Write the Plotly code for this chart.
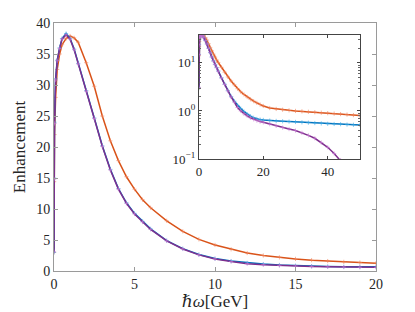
import plotly.graph_objects as go

# photon energy (GeV)
x_vals = [0, 0.01, 0.03, 0.1, 0.2, 0.35, 0.5, 0.75, 1.0, 1.25, 1.5, 2, 2.5, 3, 3.5, 4, 4.5, 5, 5.5, 6,
          7, 8, 9, 10, 11, 12, 13, 14, 15, 16, 17, 18, 19, 20, 22, 24, 26, 28, 30, 32, 34, 36, 38,
          40, 42, 44, 46, 48, 50]

orange_vals = [3.0, 14.4, 22.0, 28.0, 32.5, 35.0, 36.5, 37.5, 37.9, 37.6, 36.9, 33.6, 29.8, 25.0, 21.0,
               17.8, 15.2, 13.2, 11.5, 10.2, 8.1, 6.4, 5.1, 4.2, 3.5, 2.9, 2.5, 2.2, 1.95, 1.75, 1.6,
               1.47, 1.36, 1.27, 1.15, 1.1, 1.06, 1.03, 1.0, 0.98, 0.96, 0.94, 0.92, 0.9, 0.88, 0.86,
               0.84, 0.82, 0.8]

blue_vals = [3.0, 15.0, 24.0, 31.0, 34.0, 36.0, 37.5, 38.3, 37.5, 35.8, 33.5, 29.1, 24.7, 20.2, 16.4,
             13.3, 11.0, 9.3, 8.0, 6.8, 4.9, 3.6, 2.65, 2.0, 1.6, 1.3, 1.12, 0.97, 0.86, 0.78, 0.72,
             0.68, 0.66, 0.65, 0.63, 0.62, 0.61, 0.6, 0.59, 0.58, 0.57, 0.56, 0.55, 0.54, 0.535,
             0.53, 0.52, 0.515, 0.51]

purple_vals = [3.1, 14.8, 23.8, 30.8, 33.9, 35.9, 37.4, 38.1, 37.4, 35.7, 33.4, 29.0, 24.6, 20.1, 16.3,
               13.2, 10.9, 9.2, 7.9, 6.7, 4.85, 3.55, 2.6, 1.95, 1.52, 1.18, 1.0, 0.87, 0.79, 0.72,
               0.67, 0.63, 0.6, 0.58, 0.53, 0.49, 0.45, 0.42, 0.39, 0.35, 0.31, 0.27, 0.22, 0.175,
               0.13, 0.095, 0.065, 0.045, 0.03]

series = [
    ("orange", orange_vals, "#D95319", "rgba(240,130,90,0.6)"),
    ("blue", blue_vals, "#0072BD", "rgba(60,170,230,0.6)"),
    ("purple", purple_vals, "#7E2F8E", "rgba(200,120,210,0.6)"),
]

main_x_ticks = [0, 5, 10, 15, 20]
main_y_ticks = [0, 5, 10, 15, 20, 25, 30, 35, 40]
inset_x_ticks = [0, 20, 40]
inset_y_ticks = [0.1, 1, 10]
inset_y_text = ["10<sup>−1</sup>", "10<sup>0</sup>", "10<sup>1</sup>"]

fig = go.Figure()
for name, vals, col, mcol in series:
    for xa, ya in (("x", "y"), ("x2", "y2")):
        fig.add_trace(go.Scatter(
            x=x_vals, y=vals, xaxis=xa, yaxis=ya, mode="lines+markers", name=name,
            line=dict(color=col, width=1.5),
            marker=dict(symbol="cross-thin", size=3, line=dict(color=mcol, width=1)),
            showlegend=False, cliponaxis=True))

font = dict(family="Liberation Serif, DejaVu Serif, serif", size=14, color="#262626")
axcol = "#9a9a9a"
fig.update_layout(
    width=415, height=312,
    margin=dict(l=46, r=47, t=15, b=49, autoexpand=False),
    paper_bgcolor="white", plot_bgcolor="white",
    font=font,
    xaxis=dict(domain=[0, 1], range=[0, 20], tickvals=main_x_ticks, ticks="inside", ticklen=4,
               tickcolor=axcol, showline=True, linecolor=axcol, mirror="ticks", showgrid=False,
               zeroline=False, automargin=False, title=dict(text="<i>ℏω</i>[GeV]", standoff=2)),
    yaxis=dict(domain=[0, 1], range=[0, 40], tickvals=main_y_ticks, ticks="inside", ticklen=4,
               tickcolor=axcol, showline=True, linecolor=axcol, mirror="ticks", showgrid=False,
               zeroline=False, automargin=False, title=dict(text="Enhancement", standoff=6)),
    xaxis2=dict(domain=[0.450, 0.950], anchor="y2", range=[0, 50], tickvals=inset_x_ticks,
                ticks="inside", ticklen=3, tickcolor="#444", showline=True, linecolor="#444",
                mirror="ticks", showgrid=False, zeroline=False, automargin=False,
                tickfont=dict(size=13)),
    yaxis2=dict(domain=[0.4516, 0.9516], anchor="x2", type="log", range=[-1, 1.58],
                tickvals=inset_y_ticks, ticktext=inset_y_text, ticks="inside", ticklen=3,
                tickcolor="#444", showline=True, linecolor="#444", mirror="ticks",
                showgrid=False, zeroline=False, automargin=False, tickfont=dict(size=13),
                minor=dict(ticks="inside", ticklen=2, tickcolor="#666", dtick="D1")),
)
fig.write_html("out.html")
